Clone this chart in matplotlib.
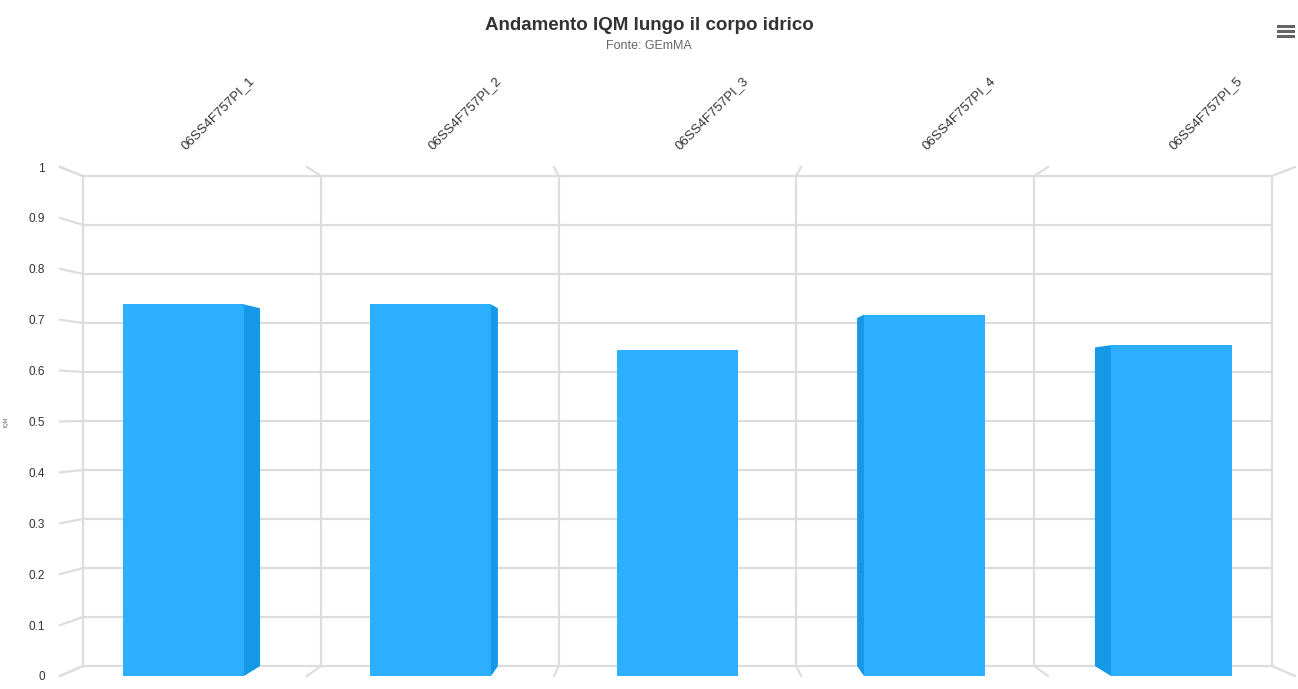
import matplotlib.pyplot as plt
from matplotlib.patches import Polygon
from matplotlib.lines import Line2D

plt.rcParams['font.family'] = ['Liberation Sans', 'DejaVu Sans']

# Data
stations = ['06SS4F757PI_1', '06SS4F757PI_2', '06SS4F757PI_3', '06SS4F757PI_4', '06SS4F757PI_5']
iqm = [0.73, 0.73, 0.64, 0.71, 0.65]
yticks = [0, 0.1, 0.2, 0.3, 0.4, 0.5, 0.6, 0.7, 0.8, 0.9, 1]

# 3D look: points at depth d are pulled toward a vanishing point
VX, VY, K = 2.0, 0.527, 0.037
BAR_W = 0.49
GRID = '#dddddd'
FRONT = '#2caffe'
SIDE = '#1598e6'


def proj(x, y, d=1.0):
    return x + (VX - x) * K * d, y + (VY - y) * K * d


fig = plt.figure(figsize=(12.98, 6.89), dpi=100)
ax = fig.add_axes([60 / 1298, 13 / 689, 1235 / 1298, 509 / 689])
ax.set_xlim(-0.5, len(stations) - 0.5)
ax.set_ylim(0, 1)
for s in ax.spines.values():
    s.set_visible(False)

n = len(stations)
x0, x1 = -0.5, n - 0.5

# back wall horizontal grid + left wall connectors
for t in yticks:
    bx0, by = proj(x0, t)
    bx1, _ = proj(x1, t)
    ax.plot([bx0, bx1], [by, by], color=GRID, lw=1.6, clip_on=False, zorder=1)
    ax.plot([x0, bx0], [t, by], color=GRID, lw=1.6, clip_on=False, zorder=1)

# back wall vertical grid + floor/ceiling connectors
for i in range(n + 1):
    b = i - 0.5
    bx, bt = proj(b, 1)
    _, bb = proj(b, 0)
    ax.plot([bx, bx], [bb, bt], color=GRID, lw=1.6, clip_on=False, zorder=1)
    ax.plot([b, bx], [1, bt], color=GRID, lw=1.6, clip_on=False, zorder=1)
    ax.plot([b, bx], [0, bb], color=GRID, lw=1.6, clip_on=False, zorder=1)

# columns
for i, v in enumerate(iqm):
    left, right = i - BAR_W / 2, i + BAR_W / 2
    if right < VX:
        xe = right
    elif left > VX:
        xe = left
    else:
        xe = None
    if xe is not None:
        xb, vb = proj(xe, v)
        _, zb = proj(xe, 0)
        ax.add_patch(Polygon([(xe, 0), (xe, v), (xb, vb), (xb, zb)], closed=True,
                             facecolor=SIDE, edgecolor='none', zorder=2, clip_on=False))
    ax.add_patch(Polygon([(left, 0), (left, v), (right, v), (right, 0)], closed=True,
                         facecolor=FRONT, edgecolor='none', zorder=3, clip_on=False))

ax.set_yticks(yticks)
ax.set_yticklabels(['0', '0.1', '0.2', '0.3', '0.4', '0.5', '0.6', '0.7', '0.8', '0.9', '1'])
ax.tick_params(axis='y', length=0, pad=11, labelsize=8.5, labelcolor='#333333')
ax.xaxis.tick_top()
ax.set_xticks(range(n))
ax.set_xticklabels(stations, rotation=45, ha='left', va='center', rotation_mode='anchor')
ax.tick_params(axis='x', length=0, pad=14, labelsize=9.5, labelcolor='#333333')

ax.set_ylabel('IQM', fontsize=4, color='#666666', labelpad=14)

fig.text(649 / 1298, 1 - 25 / 689, 'Andamento IQM lungo il corpo idrico', ha='center', va='center',
         fontsize=13.5, fontweight='bold', color='#333333')
fig.text(649 / 1298, 1 - 46 / 689, 'Fonte: GEmMA', ha='center', va='center',
         fontsize=9, color='#666666')

# export menu icon
for yy in (26, 31, 36):
    fig.add_artist(Line2D([1278 / 1298, 1293 / 1298], [1 - yy / 689, 1 - yy / 689],
                          color='#666666', lw=2.2))

fig.savefig('out.png', dpi=100)
plt.close(fig)
